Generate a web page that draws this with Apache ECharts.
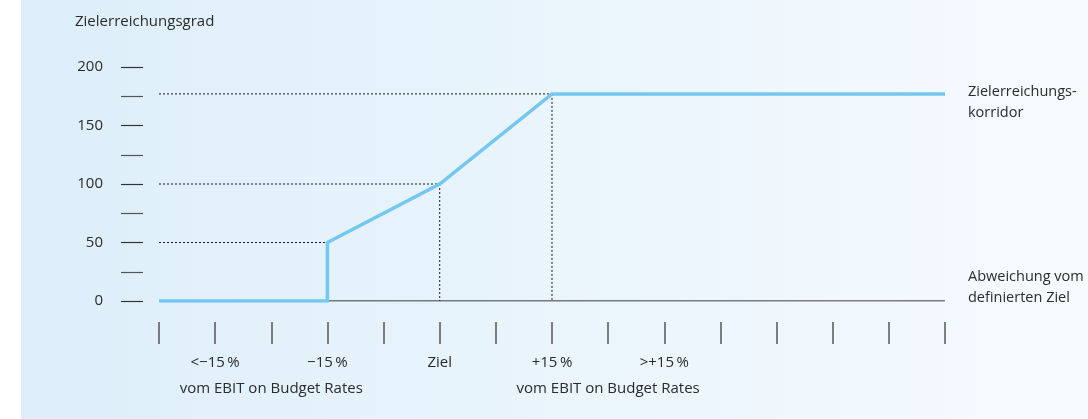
<!DOCTYPE html>
<html>
<head>
<meta charset="utf-8">
<script src="https://cdn.jsdelivr.net/npm/echarts@6/dist/echarts.min.js"></script>
<style>
  html, body { margin: 0; padding: 0; background: #fff; }
  #chart { width: 1088px; height: 419px; }
</style>
</head>
<body>
<div id="chart"></div>
<script>
// x positions are steps on the deviation scale (0..14), y is Zielerreichungsgrad
var xTicks = [0, 1, 2, 3, 4, 5, 6, 7, 8, 9, 10, 11, 12, 13, 14];
var xLabels = { 1: "<\u221215\u2009%", 3: "\u221215\u2009%", 5: "Ziel", 7: "+15\u2009%", 9: ">+15\u2009%" };
var xSubLabels = { 2: "vom EBIT on Budget Rates", 8: "vom EBIT on Budget Rates" };
var yTicks = [0, 50, 100, 150, 200];

var corridorX = [0, 3, 3, 5, 7, 14];
var corridorY = [0, 0, 50, 100, 177, 177];

var baseline = [[3, 0], [14, 0]];
var guidesH = [[[0, 50], [3, 50]], [[0, 100], [5, 100]], [[0, 177], [7, 177]]];
var guidesV = [[[5, 100], [5, 0]], [[7, 177], [7, 0]]];

var font = "'Open Sans', sans-serif";
var textColor = "#2b2b2b";
var fs = 15;

var chart = echarts.init(document.getElementById("chart"));

var guideSeries = guidesH.concat(guidesV).map(function (seg) {
  return {
    type: "line",
    data: seg,
    symbol: "none",
    silent: true,
    z: 1,
    lineStyle: { color: "#1a1a1a", width: 1, type: [2, 2] }
  };
});

function hiddenAxis(type, gridIndex, min, max) {
  return {
    type: type, gridIndex: gridIndex, min: min, max: max, show: false
  };
}

chart.setOption({
  animation: false,
  graphic: [
    {
      type: "rect",
      left: 21, top: 0, z: -10,
      shape: { width: 1067, height: 419 },
      style: {
        fill: new echarts.graphic.LinearGradient(0, 0, 1, 0, [
          { offset: 0, color: "#ddeefa" },
          { offset: 1, color: "#f6fbfe" }
        ])
      }
    },
    { type: "text", left: 75, top: 14, style: { text: "Zielerreichungsgrad", font: fs + "px " + font, fill: textColor } },
    { type: "text", left: 968, top: 81, style: { text: "Zielerreichungs-\nkorridor", font: "14.5px " + font, fill: textColor, lineHeight: 21 } },
    { type: "text", left: 968, top: 266, style: { text: "Abweichung vom\ndefinierten Ziel", font: "14.5px " + font, fill: textColor, lineHeight: 21 } }
  ],
  grid: [
    { left: 159, right: 143, top: 67, bottom: 118 },   // plot
    { left: 143, width: 1, top: 67, bottom: 118 },     // y ticks
    { left: 159, right: 143, top: 321, height: 1 }     // x ticks
  ],
  xAxis: [
    hiddenAxis("value", 0, 0, 14),
    hiddenAxis("value", 1, 0, 1),
    {
      type: "value",
      gridIndex: 2,
      min: 0, max: 14, interval: 1,
      position: "bottom",
      axisLine: { show: false },
      axisTick: { show: true, length: 22, lineStyle: { color: "#555", width: 1.5 } },
      splitLine: { show: false },
      axisLabel: {
        margin: 33,
        color: textColor,
        fontFamily: font,
        fontSize: fs,
        formatter: function (v) { return xLabels[v] || ""; }
      }
    },
    {
      type: "value",
      gridIndex: 2,
      min: 0, max: 14, interval: 1,
      position: "bottom",
      axisLine: { show: false },
      axisTick: { show: false },
      splitLine: { show: false },
      axisLabel: {
        margin: 59,
        color: textColor,
        fontFamily: font,
        fontSize: fs,
        formatter: function (v) { return xSubLabels[v] || ""; }
      }
    }
  ],
  yAxis: [
    hiddenAxis("value", 0, 0, 200),
    {
      type: "value",
      gridIndex: 1,
      min: 0, max: 200, interval: 50,
      position: "right",
      axisLine: { show: false },
      axisTick: { show: true, inside: true, length: 22, lineStyle: { color: "#333", width: 1.2 } },
      minorTick: { show: true, splitNumber: 2, length: 22, lineStyle: { color: "#555", width: 1.2 } },
      splitLine: { show: false },
      axisLabel: { show: false }
    },
    {
      type: "value",
      gridIndex: 1,
      min: 0, max: 200, interval: 50,
      position: "left",
      axisLine: { show: false },
      axisTick: { show: false },
      splitLine: { show: false },
      axisLabel: {
        margin: 40,
        color: textColor,
        fontFamily: font,
        fontSize: fs,
        formatter: function (v) { return yTicks.indexOf(v) >= 0 ? String(v) : ""; }
      }
    },
    hiddenAxis("value", 2, 0, 1)
  ],
  series: guideSeries.concat([
    {
      type: "line",
      data: baseline,
      symbol: "none",
      silent: true,
      z: 2,
      lineStyle: { color: "#000", width: 1.2 }
    },
    {
      type: "line",
      data: corridorX.map(function (x, i) { return [x, corridorY[i]]; }),
      symbol: "none",
      z: 5,
      lineStyle: { color: "#74c7f0", width: 3.5, cap: "butt", join: "miter" }
    }
  ]).map(function (s) { s.xAxisIndex = 0; s.yAxisIndex = 0; return s; })
});
</script>
</body>
</html>
